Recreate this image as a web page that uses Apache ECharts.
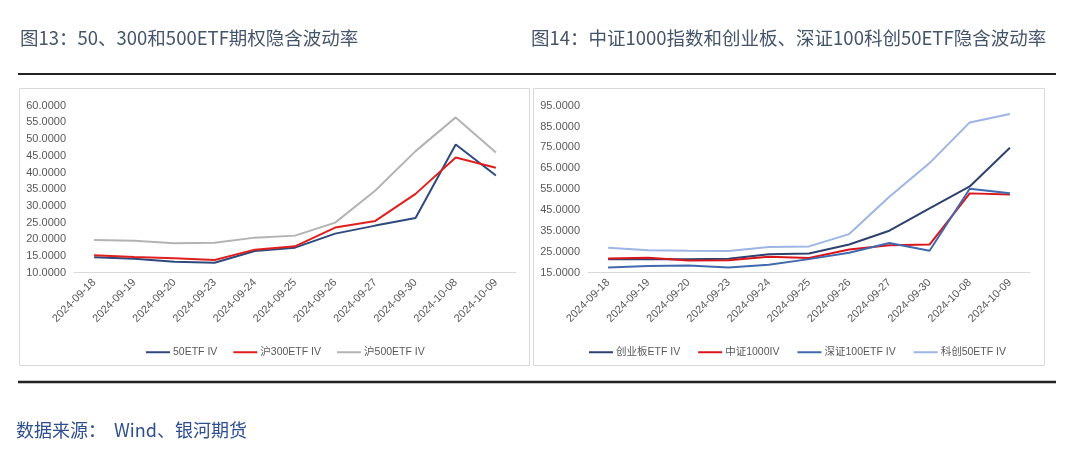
<!DOCTYPE html>
<html><head><meta charset="utf-8">
<script src="https://cdn.jsdelivr.net/npm/echarts@6/dist/echarts.min.js"></script>
<style>html,body{margin:0;padding:0;background:#fff;}#c{width:1080px;height:474px;}</style>
</head><body><div id="c"></div>
<script>
const dates = ['2024-09-18','2024-09-19','2024-09-20','2024-09-23','2024-09-24','2024-09-25','2024-09-26','2024-09-27','2024-09-30','2024-10-08','2024-10-09'];
// Left chart
const etf50 = [14.6,14.2,13.3,13.0,16.5,17.5,21.7,24.1,26.4,48.4,39.1];
const hu300 = [15.2,14.7,14.3,13.8,16.9,17.9,23.5,25.5,33.6,44.5,41.4];
const hu500 = [19.8,19.6,18.8,19.0,20.5,21.1,25.0,34.6,46.4,56.5,46.0];
// Right chart
const cyb = [21.5,21.5,21.5,21.7,23.8,24.2,28.5,35.1,45.8,56.3,74.9];
const zz1000 = [21.8,22.2,20.9,21.0,22.6,22.0,26.1,28.1,28.5,53.0,52.5];
const sz100 = [17.5,18.2,18.5,17.5,18.8,21.5,24.6,29.2,25.5,55.2,53.1];
const kc50 = [26.9,25.7,25.5,25.4,27.3,27.6,33.5,51.4,67.5,87.0,91.0];

const leftNames = ['50ETF IV','沪300ETF IV','沪500ETF IV'];
const rightNames = ['创业板ETF IV','中证1000IV','深证100ETF IV','科创50ETF IV'];

const font = '"Liberation Sans", "Noto Sans CJK SC", sans-serif';
const labelColor = '#595959';

function xAxis(gi){
  return {type:'category', gridIndex:gi, data:dates, boundaryGap:true,
    axisLine:{lineStyle:{color:'#d9d9d9',width:1}}, axisTick:{show:false},
    axisLabel:{rotate:45, color:labelColor, fontSize:11, fontFamily:font, margin:8, interval:0}};
}
function yAxis(gi,min,max,iv){
  return {type:'value', gridIndex:gi, min:min, max:max, interval:iv,
    axisLine:{show:false}, axisTick:{show:false}, splitLine:{show:false},
    axisLabel:{color:labelColor, fontSize:11, fontFamily:font, margin:8, formatter:v=>v.toFixed(4)}};
}
function line(name,data,color,gi){
  return {name:name,type:'line',xAxisIndex:gi,yAxisIndex:gi,data:data,symbol:'none',
    lineStyle:{color:color,width:2},itemStyle:{color:color},animation:false};
}

const chart = echarts.init(document.getElementById('c'));
chart.setOption({
  backgroundColor:'#fff',
  animation:false,
  title:[
    {text:'图13：50、300和500ETF期权隐含波动率', left:15, top:24, textStyle:{fontSize:18.5, fontWeight:'normal', color:'#44546a', fontFamily:'"Noto Sans CJK SC", sans-serif'}},
    {text:'图14：中证1000指数和创业板、深证100科创50ETF隐含波动率', left:526, top:24, textStyle:{fontSize:18.5, fontWeight:'normal', color:'#44546a', fontFamily:'"Noto Sans CJK SC", sans-serif'}},
    {text:'数据来源：  Wind、银河期货', left:11, top:416, textStyle:{fontSize:18, fontWeight:'normal', color:'#2f4f8f', fontFamily:'"Noto Sans CJK SC", sans-serif'}}
  ],
  graphic:[
    {type:'line', shape:{x1:18,y1:74,x2:1056,y2:74}, style:{stroke:'#222',lineWidth:2}},
    {type:'line', shape:{x1:18,y1:382,x2:1056,y2:382}, style:{stroke:'#222',lineWidth:2.5}},
    {type:'rect', shape:{x:19.5,y:88.5,width:510,height:277}, style:{fill:'none',stroke:'#d9d9d9',lineWidth:1}},
    {type:'rect', shape:{x:533.5,y:88.5,width:511,height:277}, style:{fill:'none',stroke:'#d9d9d9',lineWidth:1}}
  ],
  legend:[
    {data:leftNames, left:141, top:342, icon:'rect', itemWidth:24, itemHeight:2, itemGap:16,
     textStyle:{color:labelColor,fontSize:10.5,fontFamily:font,padding:[0,0,0,-2]}},
    {data:rightNames, left:584, top:342, icon:'rect', itemWidth:24, itemHeight:2, itemGap:18,
     textStyle:{color:labelColor,fontSize:10.5,fontFamily:font,padding:[0,0,0,-2]}}
  ],
  grid:[
    {left:74, right:564, top:105.7, bottom:201.3},
    {left:588, right:50, top:105.7, bottom:201.3}
  ],
  xAxis:[xAxis(0), xAxis(1)],
  yAxis:[yAxis(0,10,60,5), yAxis(1,15,95,10)],
  series:[
    line(leftNames[0], etf50, '#2e4a7d', 0),
    line(leftNames[1], hu300, '#e01f1f', 0),
    line(leftNames[2], hu500, '#b3b3b3', 0),
    line(rightNames[0], cyb, '#2e4270', 1),
    line(rightNames[1], zz1000, '#d9161c', 1),
    line(rightNames[2], sz100, '#4169ae', 1),
    line(rightNames[3], kc50, '#9db5e4', 1)
  ]
});
</script></body></html>
